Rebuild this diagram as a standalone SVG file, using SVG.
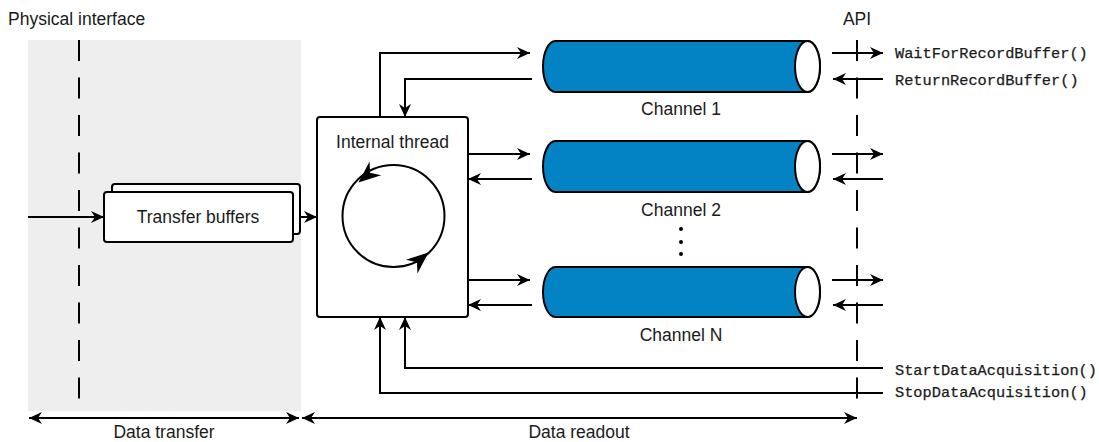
<svg xmlns="http://www.w3.org/2000/svg" width="1099" height="442" viewBox="0 0 1099 442">
<style>
.t{font-family:"Liberation Sans",Arial,sans-serif;font-size:17.5px;fill:#1a1a1a}
.m{font-family:"Liberation Mono","Courier New",monospace;font-size:15.3px;fill:#1a1a1a;stroke:#1a1a1a;stroke-width:0.25}
.box{fill:#fff;stroke:#000;stroke-width:2}
.ln{fill:none;stroke:#000;stroke-width:2}
.dash{fill:none;stroke:#000;stroke-width:2;stroke-dasharray:21 16.5}
.cyl{fill:#0383C4;stroke:#000;stroke-width:2}
.cap{fill:#fff;stroke:#000;stroke-width:2}
</style>
<defs>
<marker id="arr" viewBox="0 0 13 12" refX="13" refY="6" markerWidth="13" markerHeight="12" markerUnits="userSpaceOnUse" orient="auto-start-reverse">
<path d="M0,0 L13,6 L0,12 L4,6 Z" fill="#000"/>
</marker>
</defs>
<rect x="28" y="40" width="273" height="371" fill="#eeeeee"/>
<g id="boundaries">
<line class="dash" x1="79" y1="40" x2="79" y2="400"/>
<line class="dash" x1="857" y1="40" x2="857" y2="400"/>
</g>
<g id="labels">
<text class="t" x="8" y="25">Physical interface</text>
<text class="t" x="857" y="25" text-anchor="middle">API</text>
<text class="t" x="164" y="438" text-anchor="middle">Data transfer</text>
<text class="t" x="579" y="438" text-anchor="middle">Data readout</text>
<text class="m" x="895" y="58">WaitForRecordBuffer()</text>
<text class="m" x="895" y="85">ReturnRecordBuffer()</text>
<text class="m" x="895" y="375">StartDataAcquisition()</text>
<text class="m" x="895" y="397">StopDataAcquisition()</text>
</g>
<g id="connectors">
<path class="ln" d="M28,217 H104" marker-end="url(#arr)"/>
<path class="ln" d="M293,217 H317" marker-end="url(#arr)"/>
<path class="ln" d="M380,117 V53 H530" marker-end="url(#arr)"/>
<path class="ln" d="M532,79 H405 V117" marker-end="url(#arr)"/>
<path class="ln" d="M468,154 H530" marker-end="url(#arr)"/>
<path class="ln" d="M532,179 H468" marker-end="url(#arr)"/>
<path class="ln" d="M468,280 H530" marker-end="url(#arr)"/>
<path class="ln" d="M532,305 H468" marker-end="url(#arr)"/>
<path class="ln" d="M832,53 H883" marker-end="url(#arr)"/>
<path class="ln" d="M883,79 H833" marker-end="url(#arr)"/>
<path class="ln" d="M832,154 H883" marker-end="url(#arr)"/>
<path class="ln" d="M883,179 H833" marker-end="url(#arr)"/>
<path class="ln" d="M832,280 H883" marker-end="url(#arr)"/>
<path class="ln" d="M883,305 H833" marker-end="url(#arr)"/>
<path class="ln" d="M883,368 H405 V317" marker-end="url(#arr)"/>
<path class="ln" d="M883,393 H380 V317" marker-end="url(#arr)"/>
<path class="ln" d="M29,418 H299" marker-start="url(#arr)" marker-end="url(#arr)"/>
<path class="ln" d="M302,418 H857" marker-start="url(#arr)" marker-end="url(#arr)"/>
</g>
<g id="transfer-buffers">
<rect class="box" x="112" y="184" width="188" height="50" rx="3"/>
<rect class="box" x="104" y="192" width="189" height="50" rx="3"/>
<text class="t" x="198" y="223" text-anchor="middle">Transfer buffers</text>
</g>
<g id="internal-thread">
<rect class="box" x="317" y="117" width="151" height="200" rx="3"/>
<text class="t" x="392.5" y="148" text-anchor="middle">Internal thread</text>
<circle class="ln" cx="393.5" cy="216" r="51"/>
<path d="M0,0 L-22,-9 L-15,0 L-22,9 Z" fill="#000" transform="translate(358.5,182.5) rotate(140)"/>
<path d="M0,0 L-22,-9 L-15,0 L-22,9 Z" fill="#000" transform="translate(428.5,252.5) rotate(-40)"/>
</g>
<g id="channel-1">
<path class="cyl" d="M555.5,41 H807.5 A12.5,25.5 0 0 1 807.5,92 H555.5 A12.5,25.5 0 0 1 555.5,41 Z"/>
<ellipse class="cap" cx="807.5" cy="66.5" rx="12.5" ry="25.5"/>
<text class="t" x="681" y="115" text-anchor="middle">Channel 1</text>
</g>
<g id="channel-2">
<path class="cyl" d="M555.5,141 H807.5 A12.5,25.5 0 0 1 807.5,192 H555.5 A12.5,25.5 0 0 1 555.5,141 Z"/>
<ellipse class="cap" cx="807.5" cy="166.5" rx="12.5" ry="25.5"/>
<text class="t" x="681" y="216" text-anchor="middle">Channel 2</text>
</g>
<g id="ellipsis">
<circle cx="681" cy="229" r="2" fill="#000"/>
<circle cx="681" cy="242" r="2" fill="#000"/>
<circle cx="681" cy="254" r="2" fill="#000"/>
</g>
<g id="channel-n">
<path class="cyl" d="M555.5,267 H807.5 A12.5,25 0 0 1 807.5,317 H555.5 A12.5,25 0 0 1 555.5,267 Z"/>
<ellipse class="cap" cx="807.5" cy="292" rx="12.5" ry="25"/>
<text class="t" x="681" y="341" text-anchor="middle">Channel N</text>
</g>
</svg>
